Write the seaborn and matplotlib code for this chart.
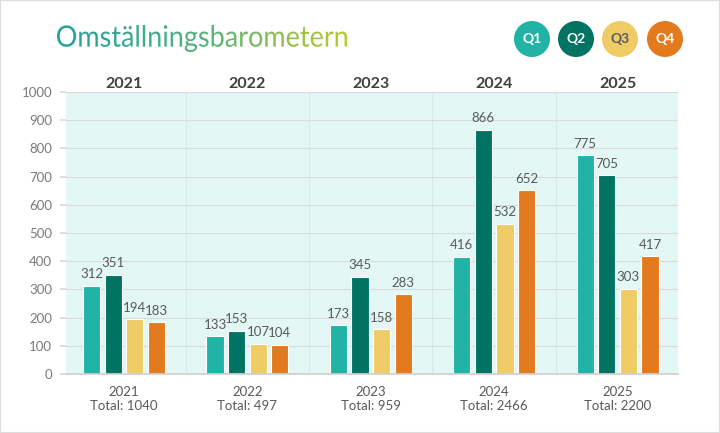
"""Quarterly bar chart for Omställningsbarometern."""

import matplotlib.pyplot as plt
import numpy as np
import pandas as pd
import seaborn as sns
from matplotlib.colors import LinearSegmentedColormap
from matplotlib.font_manager import FontProperties
from matplotlib.patches import Circle, PathPatch, Rectangle
from matplotlib.textpath import TextPath

# Data.
years = ["2021", "2022", "2023", "2024", "2025"]
quarters = ["Q1", "Q2", "Q3", "Q4"]
q1 = [312, 133, 173, 416, 775]
q2 = [351, 153, 345, 866, 705]
q3 = [194, 107, 158, 532, 303]
q4 = [183, 104, 283, 652, 417]
totals = [1040, 497, 959, 2466, 2200]

colors = ["#21B3A6", "#007362", "#EFCC66", "#E37A1E"]
text_gray = "#595959"

df = pd.DataFrame(
    {
        "year": np.repeat(years, 4),
        "quarter": quarters * len(years),
        "count": [v for row in zip(q1, q2, q3, q4) for v in row],
    }
)

sns.set_theme(style="white")
plt.rcParams["font.family"] = ["Lato", "DejaVu Sans"]

W, H = 720, 433
fig = plt.figure(figsize=(W / 100, H / 100), dpi=100)
fig.patch.set_facecolor("white")

# Main axes (pixel box converted to figure fractions).
ax = fig.add_axes([66 / W, (H - 374) / H, 612 / W, 282 / H])
ax.set_facecolor("#E3F7F5")

sns.barplot(
    data=df,
    x="year",
    y="count",
    hue="quarter",
    palette=colors,
    saturation=1,
    width=0.7,
    gap=0.2,
    edgecolor="white",
    linewidth=0.8,
    legend=False,
    ax=ax,
)

for cont in ax.containers:
    ax.bar_label(cont, padding=4, fontsize=9.5, color=text_gray)

ax.set_ylim(0, 1000)
ax.set_xlim(-0.47, 4.49)
ax.set_yticks(range(0, 1001, 100))
ax.grid(axis="y", color="#DADADA", linewidth=0.8)
ax.set_axisbelow(True)
for i in range(len(years) - 1):
    ax.axvline(i + 0.5, color="#D3ECEA", linewidth=0.8, zorder=0)

for side in ["top", "right", "left"]:
    ax.spines[side].set_visible(False)
ax.spines["bottom"].set_color("#D0D0D0")

ax.set_xticks(range(len(years)))
ax.set_xticklabels([f"{y}\nTotal: {t}" for y, t in zip(years, totals)])
ax.tick_params(axis="x", length=0, pad=9, labelsize=9.5, labelcolor=text_gray)
ax.tick_params(axis="y", length=4, color="#DADADA", pad=6, labelsize=9.5,
               labelcolor="#7A7A7A", left=True)
ax.set_xlabel("")
ax.set_ylabel("")

# Year headers above the plot.
for i, y in enumerate(years):
    ax.text(i, 1003, y, ha="center", va="bottom", fontsize=11.5,
            fontweight="bold", color="#404040")

# Gradient title.
tp = TextPath((0, 0), "Omställningsbarometern", size=20,
              prop=FontProperties(family="Lato"))
b = tp.get_extents()
t_w = 290
t_h = 27
tax = fig.add_axes([57 / W, (H - 52) / H, t_w / W, t_h / H])
tax.set_xlim(b.x0, b.x1)
tax.set_ylim(b.y0, b.y1)
tax.axis("off")
patch = PathPatch(tp, facecolor="none", edgecolor="none")
tax.add_patch(patch)
cmap = LinearSegmentedColormap.from_list("title", ["#1EA29D", "#55B27D", "#B8CA2C"])
grad = np.linspace(0, 1, 256).reshape(1, -1)
im = tax.imshow(grad, cmap=cmap, extent=[b.x0, b.x1, b.y0, b.y1],
                aspect="auto", interpolation="bilinear")
im.set_clip_path(patch)

# Quarter legend circles.
for x_px, q, c in zip([532, 576, 620, 665], quarters, colors):
    cx, cy = x_px / 100, (H - 39) / 100
    fig.add_artist(Circle((cx, cy), 0.18, transform=fig.dpi_scale_trans,
                          facecolor=c, edgecolor="none"))
    fig.text(cx * 100 / W, cy * 100 / H, q, ha="center", va="center",
             fontsize=10, fontweight="bold",
             color="#595959" if q == "Q3" else "white")

# Thin frame around the figure.
fig.add_artist(Rectangle((0, 0), 1, 1, transform=fig.transFigure,
                         facecolor="none", edgecolor="#DDDDDD", linewidth=1.5))

fig.savefig("out.png", dpi=100, facecolor="white")
